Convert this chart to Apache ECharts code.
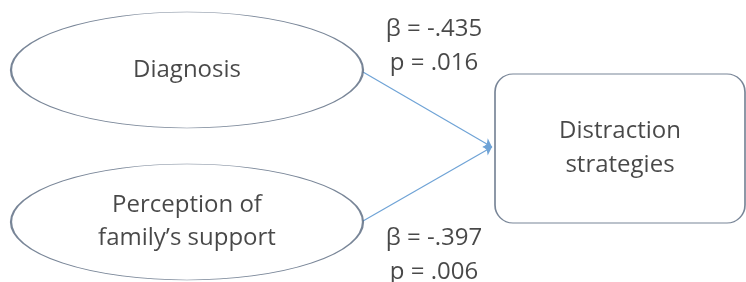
<!doctype html>
<html lang="en">
<head>
    <meta charset="UTF-8">
    <title>Path diagram</title>
    <script src="https://cdn.jsdelivr.net/npm/echarts@6.0.0/dist/echarts.min.js"></script>
    <style>
        html, body { margin: 0; padding: 0; background: #fff; }
        #chart { width: 746px; height: 282px; }
    </style>
</head>
<body>
<div id="chart"></div>
<script>
    // data
    const predictors = ['Diagnosis', 'Perception of\nfamily’s support'];
    const outcome = 'Distraction\nstrategies';
    const betas = [-0.435, -0.397];
    const pValues = [0.016, 0.006];

    // layout (pixel units, the grid covers the whole page)
    const predictorPos = [[187, 70], [187, 222]];
    const outcomePos = [620, 148.5];
    const statPos = [[434, 46], [434, 255]];
    const edgeStart = [[363, 72], [363, 221]];
    const edgeEnd = [492, 147];

    const fmt = v => v.toFixed(3).replace('0.', '.');

    const font = '"Open Sans", sans-serif';
    const fontSize = 24;
    const textColor = '#1a1a1a';
    const outline = '#56677d';

    const boxPath = 'path://M18,0 H232 A18,18 0 0 1 250,18 V131 A18,18 0 0 1 232,149 H18 A18,18 0 0 1 0,131 V18 A18,18 0 0 1 18,0 Z';

    const chart = echarts.init(document.getElementById('chart'));
    chart.setOption({
        animation: false,
        grid: { left: 0, right: 0, top: 0, bottom: 0 },
        xAxis: { type: 'value', min: 0, max: 746, show: false },
        yAxis: { type: 'value', min: 0, max: 282, inverse: true, show: false },
        series: [
            {
                type: 'lines',
                coordinateSystem: 'cartesian2d',
                silent: true,
                symbol: ['none', 'arrow'],
                symbolSize: 8,
                lineStyle: { color: '#6fa3d6', width: 1.2, opacity: 1 },
                data: predictors.map((p, i) => ({ coords: [edgeStart[i], edgeEnd] }))
            },
            {
                type: 'scatter',
                silent: true,
                clip: false,
                symbol: 'circle',
                symbolSize: [352, 116],
                itemStyle: { color: '#fff', borderColor: outline, borderWidth: 1.3 },
                label: {
                    show: true, position: 'inside', formatter: p => p.data.name,
                    fontFamily: font, fontSize: fontSize, lineHeight: 33, color: textColor
                },
                data: predictors.map((p, i) => ({ name: p, value: predictorPos[i] }))
            },
            {
                type: 'scatter',
                silent: true,
                clip: false,
                symbol: boxPath,
                symbolSize: [250, 149],
                itemStyle: { color: '#fff', borderColor: outline, borderWidth: 1.3 },
                label: {
                    show: true, position: 'inside', formatter: p => p.data.name,
                    fontFamily: font, fontSize: fontSize, lineHeight: 34, color: textColor
                },
                data: [{ name: outcome, value: outcomePos }]
            },
            {
                type: 'scatter',
                silent: true,
                clip: false,
                symbolSize: 0,
                label: {
                    show: true, position: 'inside', formatter: p => p.data.name,
                    fontFamily: font, fontSize: fontSize, lineHeight: 34, color: textColor
                },
                data: betas.map((b, i) => ({
                    name: 'β = ' + fmt(b) + '\np = ' + fmt(pValues[i]),
                    value: statPos[i]
                }))
            }
        ]
    });
</script>
</body>
</html>
